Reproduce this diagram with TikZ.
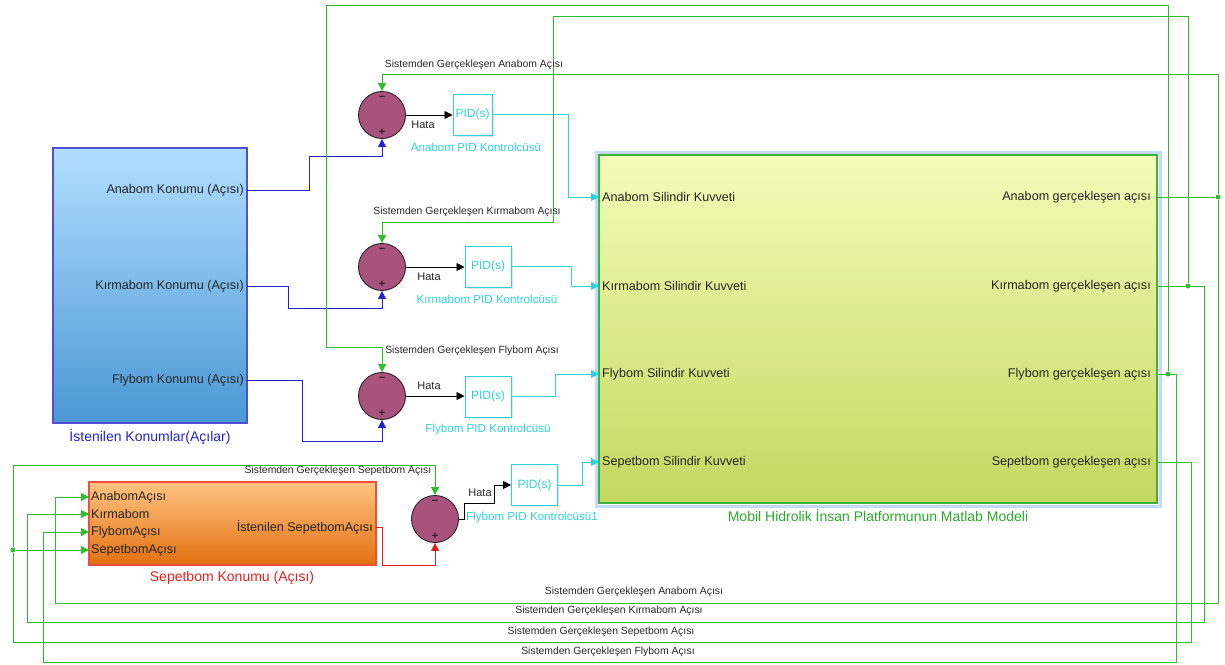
\documentclass[tikz,border=0pt]{standalone}
\usepackage{fontspec}
\setmainfont{Liberation Sans}
\usetikzlibrary{positioning,arrows.meta,shadows}

\definecolor{fbgreen}{RGB}{45,190,45}
\definecolor{refblue}{RGB}{35,35,205}
\definecolor{ctlcyan}{RGB}{45,210,222}
\definecolor{errred}{RGB}{228,30,30}
\definecolor{summauve}{RGB}{168,82,124}
\definecolor{glowblue}{RGB}{195,218,250}

\tikzset{
  wire/.style={line width=0.9pt},
  fb/.style={wire,draw=fbgreen},
  ref/.style={wire,draw=refblue},
  ctl/.style={wire,draw=ctlcyan},
  sumnode/.style={circle,draw=black!85,fill=summauve,minimum size=47pt,inner sep=0pt,line width=0.9pt},
  pidbox/.style={draw=ctlcyan,line width=1pt,fill=white,text=ctlcyan,minimum height=41pt,inner sep=0pt,
    font=\fontsize{12}{14}\selectfont,drop shadow={opacity=0.2,shadow xshift=1.5pt,shadow yshift=-1.5pt}},
  port/.style={font=\fontsize{12.6}{14}\selectfont,text=black!85,inner sep=0pt},
  small/.style={font=\fontsize{10.4}{12}\selectfont,text=black!85,inner sep=0pt},
  hata/.style={font=\fontsize{11}{12}\selectfont,text=black!85,inner sep=0pt},
  blockname/.style={font=\fontsize{11.6}{14}\selectfont,inner sep=0pt},
  bigname/.style={font=\fontsize{14}{16}\selectfont,inner sep=0pt},
  sign/.style={font=\bfseries\fontsize{11}{11}\selectfont,text=black!85,inner sep=0pt},
  jdot/.style={circle,fill=fbgreen,inner sep=0pt,minimum size=5pt},
  srcblock/.style={draw=refblue!80,line width=1.2pt,top color={rgb,255:red,178;green,222;blue,255},
    bottom color={rgb,255:red,74;green,152;blue,212},minimum width=194pt,minimum height=275pt},
  sepblock/.style={draw={rgb,255:red,235;green,80;blue,60},line width=1.2pt,top color={rgb,255:red,255;green,196;blue,130},
    bottom color={rgb,255:red,226;green,112;blue,16},minimum width=287pt,minimum height=83pt},
  mdlblock/.style={draw={rgb,255:red,60;green,180;blue,60},line width=1.4pt,top color={rgb,255:red,243;green,252;blue,184},
    bottom color={rgb,255:red,196;green,216;blue,96},minimum width=558pt,minimum height=348pt},
}

\begin{document}
\begin{tikzpicture}[x=1pt,y=-1pt,>={Triangle[length=8pt,width=8pt]}]
\useasboundingbox (0,0) rectangle (1225,664);

% istenilen konumlar
\node[srcblock] (ist) at (150,285.5) {};
\node[port,anchor=east] (istA) at (244,190) {Anabom Konumu (Açısı)};
\node[port,anchor=east] (istK) at (244,286) {Kırmabom Konumu (Açısı)};
\node[port,anchor=east] (istF) at (244,380) {Flybom Konumu (Açısı)};
\node[bigname,text=refblue] at (150,437) {İstenilen Konumlar(Açılar)};
\coordinate (refA) at (247,190);
\coordinate (refK) at (247,286);
\coordinate (refF) at (247,380);

% toplama bloklari
\node[sumnode] (sum1) at (382,115) {};
\node[sumnode] (sum2) at (382,267) {};
\node[sumnode] (sum3) at (382,396) {};
\node[sumnode] (sum4) at (435,519) {};
\foreach \s in {sum1,sum2,sum3,sum4}{
  \node[sign] at ([yshift=-7pt]\s.north) {−};
  \node[sign] at ([yshift=7pt]\s.south) {+};
}

% PID kontrolculer
\node[pidbox,minimum width=39pt] (pid1) at (472.5,114.5) {PID(s)};
\node[pidbox,minimum width=46pt] (pid2) at (488,266.5) {PID(s)};
\node[pidbox,minimum width=46pt] (pid3) at (488,396.5) {PID(s)};
\node[pidbox,minimum width=46pt] (pid4) at (534.5,485) {PID(s)};
\node[blockname,text=ctlcyan] at (476,147) {Anabom PID Kontrolcüsü};
\node[blockname,text=ctlcyan] at (487,299) {Kırmabom PID Kontrolcüsü};
\node[blockname,text=ctlcyan] at (488,429) {Flybom PID Kontrolcüsü};
\node[blockname,text=ctlcyan] at (532,517) {Flybom PID Kontrolcüsü1};

% model
\draw[glowblue,line width=3pt] (596,152) rectangle (1160,506);
\node[mdlblock] (mdl) at (878,329) {};
\node[bigname,text=fbgreen!90!black] at (878,515) {Mobil Hidrolik İnsan Platformunun Matlab Modeli};
\node[port,anchor=west] at (602,197) {Anabom Silindir Kuvveti};
\node[port,anchor=west] at (602,286) {Kırmabom Silindir Kuvveti};
\node[port,anchor=west] at (602,374) {Flybom Silindir Kuvveti};
\node[port,anchor=west] at (602,462) {Sepetbom Silindir Kuvveti};
\node[port,anchor=east] at (1151,197) {Anabom gerçekleşen açısı};
\node[port,anchor=east] at (1151,286) {Kırmabom gerçekleşen açısı};
\node[port,anchor=east] at (1151,374) {Flybom gerçekleşen açısı};
\node[port,anchor=east] at (1151,462) {Sepetbom gerçekleşen açısı};
\coordinate (inA) at (599,197);
\coordinate (inK) at (599,286);
\coordinate (inF) at (599,374);
\coordinate (inS) at (599,462);
\coordinate (outA) at (1157,197);
\coordinate (outK) at (1157,286);
\coordinate (outF) at (1157,374);
\coordinate (outS) at (1157,462);

% sepetbom konumu
\node[sepblock] (sep) at (232.5,523.5) {};
\node[bigname,text=errred] at (232,578) {Sepetbom Konumu (Açısı)};
\node[port,anchor=west] at (91,497) {AnabomAçısı};
\node[port,anchor=west] at (91,514) {Kırmabom};
\node[port,anchor=west] at (91,532) {FlybomAçısı};
\node[port,anchor=west] at (91,550) {SepetbomAçısı};
\node[port,anchor=east] at (373,527) {İstenilen SepetbomAçısı};
\coordinate (sepA) at (89,497);
\coordinate (sepK) at (89,514);
\coordinate (sepF) at (89,532);
\coordinate (sepS) at (89,550);
\coordinate (sepOut) at (376,527);

% referans hatlari
\draw[ref,->] (refA) -- (309,190) |- (382,156) -- (sum1.south);
\draw[ref,->] (refK) -- (288,286) |- (382,308) -- (sum2.south);
\draw[ref,->] (refF) -- (302,380) |- (382,441) -- (sum3.south);
\draw[wire,errred,->] (sepOut) -- (382,527) |- (435,565) -- (sum4.south);

% hata
\draw[wire,->] (sum1.east) -- (sum1.east -| pid1.west);
\draw[wire,->] (sum2.east) -- (sum2.east -| pid2.west);
\draw[wire,->] (sum3.east) -- (sum3.east -| pid3.west);
\draw[wire,->] (sum4.east) -- (464,519) |- (494,503) |- (pid4.west);
\node[hata] at (423,125) {Hata};
\node[hata] at (429,277) {Hata};
\node[hata] at (429,386) {Hata};
\node[hata] at (480,493) {Hata};

% kontrol kuvvetleri
\draw[ctl,->] (pid1.east) -- ++(76,0) |- (inA);
\draw[ctl,->] (pid2.east) -- ++(60,0) |- (inK);
\draw[ctl,->] (pid3.east) -- ++(44,0) |- (inF);
\draw[ctl,->] (pid4.east) -- ++(24.5,0) |- (inS);

% geri beslemeler
\node[jdot] (jA) at (1218,197) {};
\node[jdot] (jK) at (1188,286) {};
\node[jdot] (jF) at (1168,374) {};
\node[jdot] (jS) at (13,550) {};
\draw[fb] (outA) -- (jA);
\draw[fb,->] (jA) |- (382,74) -- (sum1.north);
\draw[fb,->] (jA) |- (55,603) |- (sepA);
\draw[fb] (outK) -- (1204,286) |- (27,622);
\draw[fb,->] (27,622) |- (sepK);
\draw[fb,->] (jK) |- (553,16) |- (382,222) -- (sum2.north);
\draw[fb] (outF) -- (1176,374) |- (43,662);
\draw[fb,->] (43,662) |- (sepF);
\draw[fb,->] (jF) |- (326,5) |- (382,347) -- (sum3.north);
\draw[fb] (outS) -| (1191,642) -| (jS);
\draw[fb,->] (jS) -- (sepS);
\draw[fb,->] (jS) |- (435,465) -- (sum4.north);

\node[small] at (474,65) {Sistemden Gerçekleşen Anabom Açısı};
\node[small] at (467,212) {Sistemden Gerçekleşen Kırmabom Açısı};
\node[small] at (472,351) {Sistemden Gerçekleşen Flybom Açısı};
\node[small] at (338,471) {Sistemden Gerçekleşen Sepetbom Açısı};
\node[small] at (634,592) {Sistemden Gerçekleşen Anabom Açısı};
\node[small] at (609,611) {Sistemden Gerçekleşen Kırmabom Açısı};
\node[small] at (601,632) {Sistemden Gerçekleşen Sepetbom Açısı};
\node[small] at (608,652) {Sistemden Gerçekleşen Flybom Açısı};
\end{tikzpicture}
\end{document}
